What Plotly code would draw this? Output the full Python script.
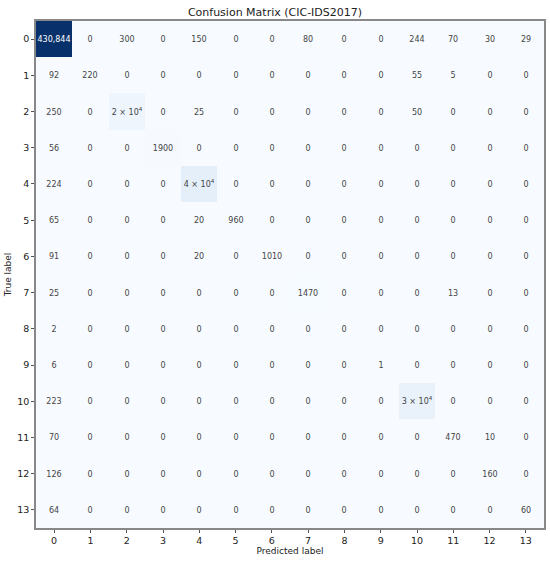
import plotly.graph_objects as go

# confusion matrix values (rows = true label, cols = predicted)
labels = list(range(14))

row_0 = [430844, 0, 300, 0, 150, 0, 0, 80, 0, 0, 244, 70, 30, 29]
row_1 = [92, 220, 0, 0, 0, 0, 0, 0, 0, 0, 55, 5, 0, 0]
row_2 = [250, 0, 20000, 0, 25, 0, 0, 0, 0, 0, 50, 0, 0, 0]
row_3 = [56, 0, 0, 1900, 0, 0, 0, 0, 0, 0, 0, 0, 0, 0]
row_4 = [224, 0, 0, 0, 40000, 0, 0, 0, 0, 0, 0, 0, 0, 0]
row_5 = [65, 0, 0, 0, 20, 960, 0, 0, 0, 0, 0, 0, 0, 0]
row_6 = [91, 0, 0, 0, 20, 0, 1010, 0, 0, 0, 0, 0, 0, 0]
row_7 = [25, 0, 0, 0, 0, 0, 0, 1470, 0, 0, 0, 13, 0, 0]
row_8 = [2, 0, 0, 0, 0, 0, 0, 0, 0, 0, 0, 0, 0, 0]
row_9 = [6, 0, 0, 0, 0, 0, 0, 0, 0, 1, 0, 0, 0, 0]
row_10 = [223, 0, 0, 0, 0, 0, 0, 0, 0, 0, 30000, 0, 0, 0]
row_11 = [70, 0, 0, 0, 0, 0, 0, 0, 0, 0, 0, 470, 10, 0]
row_12 = [126, 0, 0, 0, 0, 0, 0, 0, 0, 0, 0, 0, 160, 0]
row_13 = [64, 0, 0, 0, 0, 0, 0, 0, 0, 0, 0, 0, 0, 60]

matrix = [row_0, row_1, row_2, row_3, row_4, row_5, row_6, row_7,
          row_8, row_9, row_10, row_11, row_12, row_13]

top = max(max(r) for r in matrix)


def fmt(v):
    if v == top:
        return f"{v:,}"
    if v >= 10000:
        exp = len(str(v)) - 1
        return f"{v // 10 ** exp} × 10<sup>{exp}</sup>"
    return str(v)


text = [[fmt(v) for v in r] for r in matrix]

# matplotlib "Blues"
blues = [[0.0, "#f7fbff"], [0.125, "#deebf7"], [0.25, "#c6dbef"], [0.375, "#9ecae1"],
         [0.5, "#6baed6"], [0.625, "#4292c6"], [0.75, "#2171b5"], [0.875, "#08519c"],
         [1.0, "#08306b"]]

fig = go.Figure(go.Heatmap(
    z=matrix, x=labels, y=labels, text=text, texttemplate="%{text}",
    textfont=dict(size=8, family="DejaVu Sans"),
    colorscale=blues, showscale=False, xgap=0, ygap=0,
))

axis_style = dict(
    showline=True, linecolor="#888", linewidth=1.5, mirror=True, automargin=False,
    ticks="outside", ticklen=3, tickcolor="#555", showgrid=False, zeroline=False,
    tickmode="array", tickvals=labels, tickfont=dict(size=9.5, color="#222"),
)

fig.update_layout(
    width=550, height=562,
    margin=dict(l=36, r=6, t=21, b=34),
    paper_bgcolor="white", plot_bgcolor="white",
    font=dict(family="DejaVu Sans", color="#222"),
    title=dict(text="Confusion Matrix (CIC-IDS2017)", x=0.5, xanchor="center",
               y=0.979, yanchor="middle", font=dict(size=11)),
    xaxis=dict(axis_style, title=dict(text="Predicted label", font=dict(size=9), standoff=3),
               range=[-0.5, 13.5]),
    yaxis=dict(axis_style, title=dict(text="True label", font=dict(size=9), standoff=4),
               range=[13.5, -0.5]),
)

# drop the browser's default 8px body margin so the figure sits at the page corner
fig.write_html("out.html", config={"displayModeBar": False},
               post_script="document.body.style.margin='0';")
